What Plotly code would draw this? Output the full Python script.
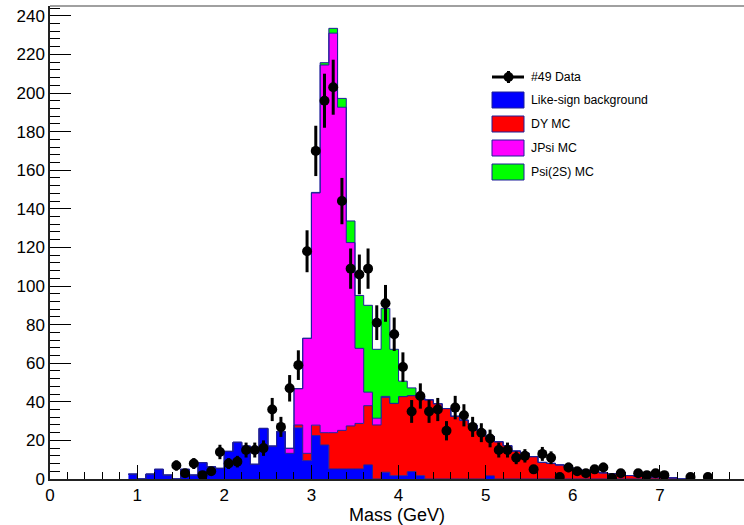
import numpy as np
import plotly.graph_objects as go

# ---------------- data (bin lower edges, 0.1 GeV bins) ----------------
bin_low = [0.9, 1.0, 1.1, 1.2, 1.3, 1.4, 1.5, 1.6, 1.7, 1.8, 1.9,
           2.0, 2.1, 2.2, 2.3, 2.4, 2.5, 2.6, 2.7, 2.8, 2.9,
           3.0, 3.1, 3.2, 3.3, 3.4, 3.5, 3.6, 3.7, 3.8, 3.9,
           4.0, 4.1, 4.2, 4.3, 4.4, 4.5, 4.6, 4.7, 4.8, 4.9,
           5.0, 5.1, 5.2, 5.3, 5.4, 5.5, 5.6, 5.7, 5.8, 5.9,
           6.0, 6.1, 6.2, 6.3, 6.4, 6.5, 6.6, 6.7, 6.8, 6.9,
           7.0, 7.1, 7.2]
bin_width = 0.1

like_sign_bg = [2.5, 0, 2.5, 5, 2, 0, 5, 2, 8.5, 6.3, 5.5,
                14.3, 19, 17, 7.6, 26.2, 17, 24.5, 13.3, 26.5, 9.5,
                22.5, 17.6, 5.2, 5.2, 5.2, 5.2, 7.3, 0, 3.5, 1.7,
                1.7, 3.8, 1.7, 0, 0, 0, 0, 0, 0, 0,
                1.6, 0, 0, 0, 0, 0, 0, 0, 0, 0,
                0, 0, 0, 0, 0, 0, 0, 0, 0, 0,
                0, 0, 0]
dy_mc = [0, 0, 0, 0, 0, 0, 0, 0, 0, 0, 0,
         0, 0, 0, 0, 0, 0, 0, 0, 1.5, 3.8,
         5.4, 6.4, 18.8, 20, 22.3, 23.6, 30.7, 28, 38.8, 37.5,
         41, 39.4, 40.3, 41, 39, 36.5, 32.5, 30.5, 28, 25,
         20.4, 19.3, 17.3, 14.5, 13.3, 11.6, 8.6, 8.1, 7.3, 6.2,
         5, 4.5, 3.8, 3.2, 2.8, 2.2, 1.8, 1.4, 1.2, 1.0,
         0.8, 0.6, 0]
jpsi_mc = [0, 0, 0, 0, 0, 0, 0, 0, 0, 0, 0,
           0, 0, 0, 0, 0, 0, 0, 2.6, 18.8, 59.6,
           120.3, 190.5, 207, 167.4, 95, 38.9, 7, 3.5, 0.5, 0,
           0, 0, 0, 0, 0, 0, 0, 0, 0, 0,
           0, 0, 0, 0, 0, 0, 0, 0, 0, 0,
           0, 0, 0, 0, 0, 0, 0, 0, 0, 0,
           0, 0, 0]
psi2s_mc = [0, 0, 0, 0, 0, 0, 0, 0, 0, 0, 0,
            0, 0, 0, 0, 0, 0, 0, 0, 0, 0,
            0.3, 1.2, 2.5, 4.6, 11.2, 27.4, 45, 35.7, 45.6, 28,
            8, 4, 1, 0, 0, 0, 0, 0, 0, 0,
            0, 0, 0, 0, 0, 0, 0, 0, 0, 0,
            0, 0, 0, 0, 0, 0, 0, 0, 0, 0,
            0, 0, 0]

data_mass = [1.45, 1.55, 1.65, 1.75, 1.85, 1.95, 2.05, 2.15, 2.25, 2.35,
             2.45, 2.55, 2.65, 2.75, 2.85, 2.95, 3.05, 3.15, 3.25, 3.35,
             3.45, 3.55, 3.65, 3.75, 3.85, 3.95, 4.05, 4.15, 4.25, 4.35,
             4.45, 4.55, 4.65, 4.75, 4.85, 4.95, 5.05, 5.15, 5.25, 5.35,
             5.45, 5.55, 5.65, 5.75, 5.85, 5.95, 6.05, 6.15, 6.25, 6.35,
             6.45, 6.55, 6.75, 6.85, 6.95, 7.05, 7.35, 7.55]
data_counts = [7, 3, 8, 2, 4, 14, 8, 9, 15, 15,
               16, 36, 27, 47, 59, 118, 170, 196, 203, 144,
               109, 106, 109, 81, 91, 75, 58, 35, 43, 35,
               36, 25, 37, 33, 27, 24, 21, 15, 15, 11,
               12, 5, 13, 11, 1, 6, 4, 3, 5, 6,
               0.5, 3, 3, 2, 3, 2, 1, 1]

legend_labels = ["#49 Data", "Like-sign background", "DY MC", "JPsi MC", "Psi(2S) MC"]
colors = {"bg": "#0000ff", "dy": "#ff0000", "jpsi": "#ff00ff", "psi2s": "#00ff00"}
outline = "#1f1f9a"

FONT = "Liberation Sans, Arial, Helvetica, sans-serif"

# ---------------- figure ----------------
fig = go.Figure()

edges = list(bin_low) + [round(bin_low[-1] + bin_width, 2)]
def step(vals):
    return list(vals) + [vals[-1]]

for name, vals, col in [("Like-sign background", like_sign_bg, colors["bg"]),
                        ("DY MC", dy_mc, colors["dy"]),
                        ("JPsi MC", jpsi_mc, colors["jpsi"]),
                        ("Psi(2S) MC", psi2s_mc, colors["psi2s"])]:
    fig.add_trace(go.Scatter(
        x=edges, y=step(vals), name=name, mode="lines",
        line=dict(shape="hv", color=outline, width=1),
        stackgroup="mc", fillcolor=col, showlegend=False,
        hoverinfo="skip"))

fig.add_trace(go.Scatter(
    x=data_mass, y=data_counts, mode="markers", name="#49 Data",
    marker=dict(color="black", size=10, symbol="circle"),
    error_y=dict(type="data", array=list(np.sqrt(data_counts)),
                 color="black", thickness=3, width=0),
    showlegend=False))

# plot area geometry (pixels)
L, T, W, H = 50, 6, 744, 525
B = 46
pw, ph = W - L, H - T - B
xscale = 87.14
ymax = ph / 1.93

def px(xp):
    return (xp - L) / pw
def py(yp):
    return (H - B - yp) / ph

shapes = []
annotations = []
# top frame line
shapes.append(dict(type="line", xref="paper", yref="paper", x0=0, x1=1, y0=1, y1=1,
                   line=dict(color="#808080", width=1.5)))

# manual legend (ROOT-style)
lx0, lx1 = 492, 524
rowy = [77, 100, 124, 148, 172]
shapes.append(dict(type="line", xref="paper", yref="paper",
                   x0=px(lx0), x1=px(lx1), y0=py(rowy[0]), y1=py(rowy[0]),
                   line=dict(color="black", width=3)))
shapes.append(dict(type="line", xref="paper", yref="paper",
                   x0=px(508.5), x1=px(508.5), y0=py(rowy[0] - 6), y1=py(rowy[0] + 6),
                   line=dict(color="black", width=3)))
shapes.append(dict(type="circle", xref="paper", yref="paper",
                   x0=px(503.5), x1=px(513.5), y0=py(rowy[0] - 5), y1=py(rowy[0] + 5),
                   fillcolor="black", line=dict(color="black", width=0)))
for i, col in enumerate([colors["bg"], colors["dy"], colors["jpsi"], colors["psi2s"]]):
    yc = rowy[i + 1]
    shapes.append(dict(type="rect", xref="paper", yref="paper",
                       x0=px(lx0), x1=px(lx1), y0=py(yc - 8), y1=py(yc + 8),
                       fillcolor=col, line=dict(color=outline, width=1)))
for i, lab in enumerate(legend_labels):
    annotations.append(dict(xref="paper", yref="paper", x=px(529), y=py(rowy[i]),
                            text=lab, showarrow=False, xanchor="left", yanchor="middle",
                            font=dict(family=FONT, size=12.3, color="black")))

fig.update_layout(
    width=W, height=H,
    margin=dict(l=L, r=0, t=T, b=B, pad=0),
    paper_bgcolor="white", plot_bgcolor="white",
    showlegend=False,
    shapes=shapes, annotations=annotations,
    xaxis=dict(range=[0, pw / xscale], tick0=0, dtick=1,
               ticks="inside", ticklen=14, tickwidth=1, tickcolor="black",
               minor=dict(dtick=0.2, ticks="inside", ticklen=7, tickcolor="black", tickwidth=1),
               showline=True, linecolor="#222222", linewidth=1.5,
               showgrid=False, zeroline=False,
               tickfont=dict(family=FONT, size=17, color="black"),
               title=dict(text="Mass (GeV)", font=dict(family=FONT, size=18, color="black"),
                          standoff=0)),
    yaxis=dict(range=[0, ymax], tick0=0, dtick=20,
               ticks="inside", ticklen=21, tickwidth=1, tickcolor="black",
               minor=dict(dtick=4, ticks="inside", ticklen=10, tickcolor="black", tickwidth=1),
               showline=True, linecolor="#222222", linewidth=1.5,
               showgrid=False, zeroline=False,
               tickfont=dict(family=FONT, size=17, color="black")),
)

fig.write_html("out.html")
